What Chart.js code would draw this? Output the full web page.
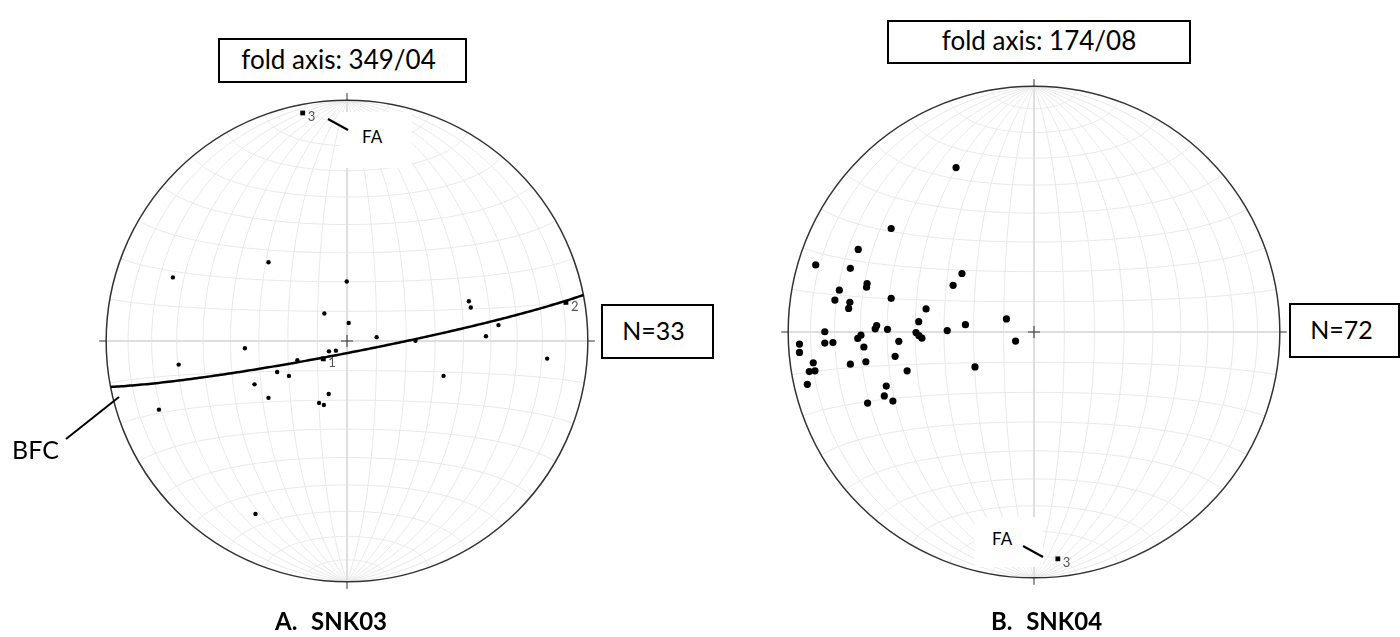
<!DOCTYPE html>
<html>
<head>
<meta charset="utf-8">
<script src="https://cdn.jsdelivr.net/npm/chart.js@4.4.1/dist/chart.umd.min.js"></script>
<style>
	body { margin: 0; width: 1400px; height: 637px; background: #fff; position: relative; overflow: hidden; font-family: Lato, "Noto Sans", sans-serif; color: #000; }
	canvas { position: absolute; }
	.box { position: absolute; border: 2px solid #000; background: #fff; box-sizing: border-box; display: flex; align-items: center; justify-content: center; line-height: 1; white-space: nowrap; }
	.lbl { position: absolute; line-height: 1; white-space: pre; }
	.mask { position: absolute; background: #fff; }
	#leaders { position: absolute; left: 0; top: 0; }
</style>
</head>
<body>

<canvas id="netA" width="586" height="586" style="left:54px; top:48px;"></canvas>
<canvas id="netB" width="598" height="598" style="left:735px; top:33px;"></canvas>

<div class="mask" style="left:340px; top:112px; width:72px; height:56px;"></div>
<div class="mask" style="left:975px; top:517px; width:68px; height:50px;"></div>

<div class="box" style="left:218px; top:38px; width:249px; height:45px; font-size:26px; padding:0 8px 4px 0;">fold axis: 349/04</div>
<div class="box" style="left:887px; top:20px; width:304px; height:44px; font-size:26px; padding:0 0 4px 0;">fold axis: 174/08</div>
<div class="box" style="left:601px; top:304px; width:113px; height:55px; font-size:25px; padding:0 8px 2px 0;">N=33</div>
<div class="box" style="left:1289px; top:303px; width:111px; height:55px; font-size:25px; padding:0 6px 2px 0;">N=72</div>

<div class="lbl" style="left:12px; top:437px; font-size:25px;">BFC</div>
<div class="lbl" style="left:362px; top:128px; font-size:17px;">FA</div>
<div class="lbl" style="left:992px; top:530px; font-size:17px;">FA</div>
<div class="lbl" style="left:275px; top:609px; font-size:24px; font-weight:bold; word-spacing:1px;">A.  SNK03</div>
<div class="lbl" style="left:991px; top:609px; font-size:24px; font-weight:bold; word-spacing:1px;">B.  SNK04</div>

<svg id="leaders" width="1400" height="637">
	<line x1="66" y1="439" x2="119" y2="397" stroke="#000" stroke-width="2"/>
	<line x1="328" y1="119" x2="348" y2="130" stroke="#000" stroke-width="2"/>
	<line x1="1023" y1="546" x2="1043" y2="557" stroke="#000" stroke-width="2"/>
</svg>

<script>
const snk03Poles = [
	[-0.723, 0.264], [-0.326, 0.327], [-0.001, 0.247], [0.506, 0.165], [0.514, 0.139],
	[-0.094, 0.114], [0.007, 0.075], [0.629, 0.066], [0.123, 0.016], [0.577, 0.020],
	[0.284, 0.001], [-0.424, -0.030], [-0.699, -0.098], [-0.075, -0.043], [-0.046, -0.040],
	[-0.206, -0.080], [0.831, -0.073], [-0.290, -0.129], [-0.241, -0.145], [0.401, -0.145],
	[-0.384, -0.180], [-0.326, -0.236], [-0.076, -0.220], [-0.116, -0.257], [-0.096, -0.266],
	[-0.781, -0.285], [-0.380, -0.718]
];
const snk04Poles = [
	[-0.317, 0.669], [-0.581, 0.421], [-0.715, 0.336], [-0.888, 0.273], [-0.747, 0.259],
	[-0.293, 0.238], [-0.679, 0.197], [-0.681, 0.182], [-0.329, 0.190], [-0.792, 0.170],
	[-0.810, 0.130], [-0.581, 0.137], [-0.749, 0.121], [-0.754, 0.096], [-0.439, 0.094],
	[-0.112, 0.053], [-0.469, 0.042], [-0.279, 0.030], [-0.640, 0.026], [-0.646, 0.013],
	[-0.596, 0.011], [-0.851, 0.001], [-0.704, -0.013], [-0.717, -0.026], [-0.480, -0.002],
	[-0.468, -0.015], [-0.456, -0.025], [-0.353, 0.006], [-0.954, -0.049], [-0.851, -0.045],
	[-0.818, -0.043], [-0.550, -0.038], [-0.075, -0.037], [-0.692, -0.061], [-0.954, -0.083],
	[-0.565, -0.099], [-0.898, -0.125], [-0.747, -0.131], [-0.684, -0.121], [-0.516, -0.158],
	[-0.914, -0.161], [-0.891, -0.158], [-0.240, -0.142], [-0.922, -0.213], [-0.601, -0.220],
	[-0.609, -0.260], [-0.574, -0.281], [-0.677, -0.289]
];

// fold axis = eigenvector 3, [trend, plunge]
const snk03FoldAxis = [349, 4];
const snk04FoldAxis = [174, 8];

// other eigenvectors of SNK03, [trend, plunge]
const snk03EigenLabels = ['1', '2'];
const snk03Eigen = [[233, 80], [80, 8.5]];

const EXTENT = 1.2;
const DEG = Math.PI / 180;

function project(v) {
	const k = Math.sqrt(1 / (1 + v[2]));
	return { x: v[0] * k, y: v[1] * k };
}

function lineVec(trend, plunge) {
	const t = trend * DEG, p = plunge * DEG;
	return [Math.cos(p) * Math.sin(t), Math.cos(p) * Math.cos(t), Math.sin(p)];
}

// great circle of the plane whose pole is trend/plunge
function greatCircle(trend, plunge) {
	const a = lineVec(trend, plunge);
	const s = [Math.cos(trend * DEG), -Math.sin(trend * DEG), 0];
	const b = [s[1] * a[2], -s[0] * a[2], s[0] * a[1] - s[1] * a[0]];
	const pts = [];
	for (let i = 0; i <= 180; i++) {
		const u = i * DEG;
		pts.push(project([0, 1, 2].map(j => Math.cos(u) * s[j] + Math.sin(u) * b[j])));
	}
	return pts;
}

const netPlugin = {
	id: 'net',
	beforeDatasetsDraw(chart) {
		const ctx = chart.ctx;
		const sx = chart.scales.x, sy = chart.scales.y;
		const px = (p) => [sx.getPixelForValue(p.x), sy.getPixelForValue(p.y)];
		const curve = (fn) => {
			ctx.beginPath();
			for (let i = 0; i <= 180; i++) {
				const p = px(project(fn(i * DEG)));
				if (i) ctx.lineTo(p[0], p[1]); else ctx.moveTo(p[0], p[1]);
			}
			ctx.stroke();
		};
		ctx.save();
		ctx.strokeStyle = '#e8e8e8';
		ctx.lineWidth = 1;
		// meridians
		for (let d = 10; d < 90; d += 10) {
			const r = d * DEG;
			for (const s of [1, -1])
				curve(t => [s * Math.sin(t) * Math.cos(r), Math.cos(t), Math.sin(t) * Math.sin(r)]);
		}
		// small circles about N-S
		for (let a = 10; a < 180; a += 10) {
			if (a === 90) continue;
			const r = a * DEG;
			curve(t => [Math.sin(r) * Math.cos(t), Math.cos(r), Math.sin(r) * Math.sin(t)]);
		}
		// diameters
		ctx.strokeStyle = '#dedede';
		ctx.lineWidth = 2;
		const c = px({ x: 0, y: 0 });
		const R = sx.getPixelForValue(1) - c[0];
		ctx.beginPath();
		ctx.moveTo(c[0] - R, c[1]); ctx.lineTo(c[0] + R, c[1]);
		ctx.moveTo(c[0], c[1] - R); ctx.lineTo(c[0], c[1] + R);
		ctx.stroke();
		// primitive
		ctx.strokeStyle = '#333';
		ctx.lineWidth = 1.5;
		ctx.beginPath();
		ctx.arc(c[0], c[1], R, 0, 2 * Math.PI);
		ctx.stroke();
		// N E S W ticks
		ctx.lineWidth = 1;
		ctx.beginPath();
		ctx.moveTo(c[0], c[1] - R); ctx.lineTo(c[0], c[1] - R - 7);
		ctx.moveTo(c[0], c[1] + R); ctx.lineTo(c[0], c[1] + R + 7);
		ctx.moveTo(c[0] - R, c[1]); ctx.lineTo(c[0] - R - 7, c[1]);
		ctx.moveTo(c[0] + R, c[1]); ctx.lineTo(c[0] + R + 7, c[1]);
		ctx.stroke();
		ctx.restore();
	},
	afterDatasetsDraw(chart) {
		const ctx = chart.ctx;
		const sx = chart.scales.x, sy = chart.scales.y;
		const cx = sx.getPixelForValue(0), cy = sy.getPixelForValue(0);
		ctx.save();
		ctx.strokeStyle = '#333';
		ctx.lineWidth = 1;
		ctx.beginPath();
		ctx.moveTo(cx - 6, cy); ctx.lineTo(cx + 6, cy);
		ctx.moveTo(cx, cy - 6); ctx.lineTo(cx, cy + 6);
		ctx.stroke();
		// eigenvector numbers
		ctx.fillStyle = '#555';
		ctx.font = '13px Lato, sans-serif';
		ctx.textBaseline = 'middle';
		chart.data.datasets.forEach((ds, i) => {
			if (!ds.numbers) return;
			chart.getDatasetMeta(i).data.forEach((el, j) => {
				ctx.fillText(ds.numbers[j], el.x + 5, el.y + 4);
			});
		});
		ctx.restore();
	}
};

function makeNet(canvasId, poles, poleRadius, eigenPts, eigenLabels, bfc) {
	const datasets = [];
	if (bfc) {
		datasets.push({
			data: bfc,
			showLine: true,
			borderColor: '#000',
			borderWidth: 2.5,
			pointRadius: 0,
			order: 3,
		});
	}
	datasets.push({
		data: poles.map(p => ({ x: p[0], y: p[1] })),
		backgroundColor: '#000',
		borderWidth: 0,
		pointRadius: poleRadius,
		order: 2,
	});
	datasets.push({
		data: eigenPts,
		numbers: eigenLabels,
		pointStyle: 'rect',
		backgroundColor: '#000',
		borderWidth: 0,
		pointRadius: 3.4,
		order: 1,
	});

	new Chart(document.getElementById(canvasId), {
		type: 'scatter',
		data: { datasets: datasets },
		options: {
			responsive: false,
			animation: false,
			devicePixelRatio: 1,
			events: [],
			layout: { padding: 0 },
			plugins: {
				legend: { display: false },
				tooltip: { enabled: false },
			},
			scales: {
				x: { type: 'linear', min: -EXTENT, max: EXTENT, display: false },
				y: { type: 'linear', min: -EXTENT, max: EXTENT, display: false },
			},
		},
		plugins: [netPlugin],
	});
}

const eigenA = snk03Eigen.map(e => project(lineVec(e[0], e[1])));
eigenA.push(project(lineVec(snk03FoldAxis[0], snk03FoldAxis[1])));
makeNet('netA', snk03Poles, 2.2, eigenA, snk03EigenLabels.concat(['3']),
	greatCircle(snk03FoldAxis[0], snk03FoldAxis[1]));

const eigenB = [project(lineVec(snk04FoldAxis[0], snk04FoldAxis[1]))];
makeNet('netB', snk04Poles, 3.6, eigenB, ['3'], null);
</script>
</body>
</html>
